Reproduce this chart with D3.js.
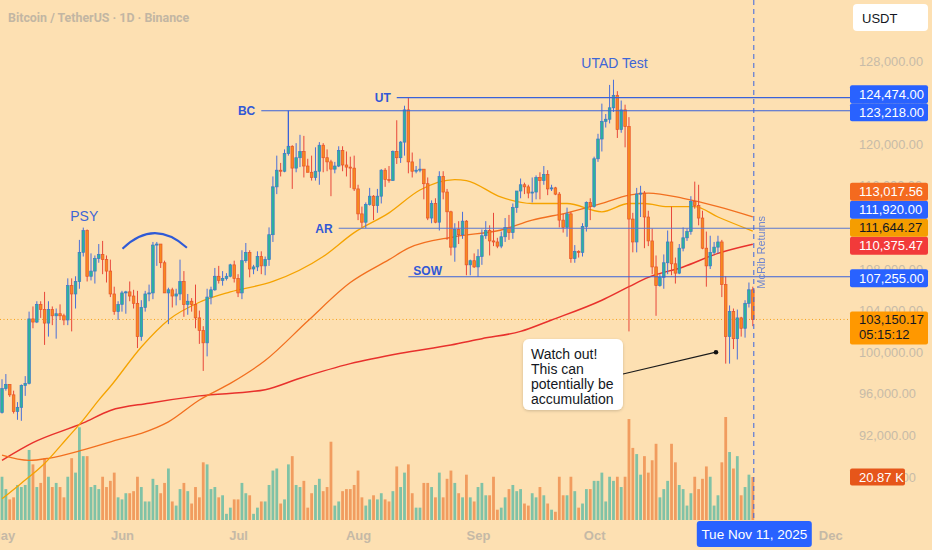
<!DOCTYPE html>
<html><head><meta charset="utf-8">
<script src="https://cdn.jsdelivr.net/npm/d3@7"></script>
<style>
html,body{margin:0;padding:0;background:#fde0b2;}
svg{display:block;font-family:"Liberation Sans",Arial,sans-serif;}
</style></head><body>
<svg id="c" width="932" height="550"></svg>
<script>
// ---------------- DATA (prices in thousands USDT, volume in K BTC) ----------------
const startDay = "2025-05-01";
const opens = [
94.2,96.5,96.9,95.9,94.3,94.7,96.8,97.0,103.2,102.9,104.6,104.1,102.8,104.1,103.5,103.7,103.5,103.1,106.4,105.6,106.8,109.6,111.7,107.3,107.8,109.0,109.4,108.9,107.8,105.6,103.9,
104.6,105.7,105.8,105.4,104.7,101.5,104.3,105.6,105.7,110.3,110.4,108.6,105.7,106.0,105.4,105.6,106.8,104.6,104.9,104.6,103.3,102.1,100.9,105.3,106.0,107.3,106.9,107.1,107.3,108.4,
107.1,105.7,108.8,109.6,108.0,108.2,109.2,108.3,108.9,111.3,115.9,117.5,117.4,119.1,119.8,117.7,118.7,119.3,117.9,117.3,116.8,117.4,119.9,118.7,118.3,117.6,117.9,119.4,118.0,117.8,117.7,
115.7,113.3,112.5,114.2,115.0,114.1,115.0,117.5,116.6,116.5,119.3,118.7,120.2,123.3,118.3,117.4,117.5,117.6,116.2,112.9,114.3,112.5,116.9,115.4,113.5,110.1,111.8,111.3,112.6,108.4,108.8,
108.2,109.2,111.2,111.7,110.7,110.6,110.2,111.1,112.0,111.5,113.9,115.5,116.1,115.9,115.3,115.4,116.8,116.5,117.1,115.7,115.8,115.2,112.7,112.0,113.3,109.0,109.7,109.6,112.1,114.4,
114.0,118.6,120.5,122.2,122.4,123.5,124.7,121.4,123.3,121.7,112.8,110.6,115.2,115.3,113.0,110.7,108.2,106.4,107.2,108.6,110.6,108.5,107.6,110.0,111.0,111.6,114.5,114.1,112.9,110.0,108.3,
109.6,110.1,110.6,106.5,101.5,103.9,101.3,103.3,102.3,104.7,106.0];
const highs = [
97.4,97.9,96.9,96.3,95.2,96.9,97.7,103.9,104.4,104.9,104.9,105.8,104.9,104.4,104.2,104.6,103.7,107.1,107.1,107.3,110.8,111.98,111.8,109.5,109.3,110.4,110.7,109.3,108.9,106.3,104.9,
105.9,105.9,106.8,106.0,105.9,105.0,105.9,106.5,110.6,110.6,110.4,108.8,106.2,106.2,106.1,108.9,107.8,105.6,105.2,106.5,104.0,102.5,106.1,106.3,108.1,108.3,107.8,107.6,108.5,108.8,
107.5,109.8,110.5,109.8,108.4,109.7,109.7,109.2,112.0,116.9,118.9,118.2,119.5,123.218,119.9,120.1,120.9,120.8,118.6,118.9,119.7,120.2,120.1,119.5,118.5,118.3,119.8,119.8,119.3,118.8,118.9,
116.1,114.0,114.4,115.8,115.1,115.7,117.6,117.7,117.9,119.4,122.3,120.3,123.7,124.474,119.2,117.9,118.6,117.6,116.8,114.6,114.8,117.4,117.4,115.7,113.6,112.4,112.6,113.5,112.7,108.9,109.5,
109.9,111.8,112.6,112.2,113.4,111.0,111.6,112.9,113.2,114.3,115.5,116.7,116.3,116.1,116.8,117.0,117.3,117.9,117.5,116.1,115.9,115.4,113.3,113.9,113.5,110.3,109.8,112.4,114.5,114.8,
118.8,121.0,123.9,122.9,125.7,126.2,125.1,124.2,123.8,122.6,113.4,115.8,116.0,115.5,113.6,111.9,109.3,107.5,109.4,111.7,114.0,109.1,110.4,112.0,111.9,115.0,116.4,116.1,113.6,111.6,111.2,
110.6,111.2,110.8,107.3,104.5,104.2,104.1,103.4,105.0,106.7,106.3];
const lows = [
94.1,96.3,95.7,94.1,93.5,93.4,95.8,96.9,102.3,102.8,103.3,100.7,101.5,102.6,101.3,103.1,102.6,102.6,102.0,104.2,106.1,109.2,106.8,106.9,106.6,108.6,107.5,106.7,105.3,103.6,103.1,
103.9,103.7,104.9,104.2,100.4,101.1,103.9,104.9,105.1,108.3,108.1,105.7,102.7,104.3,104.5,105.0,103.4,103.6,103.9,102.3,100.8,98.2,99.6,104.6,105.9,106.6,106.4,106.9,107.2,106.7,
105.3,105.1,108.6,107.2,107.5,107.8,107.5,107.4,108.3,110.6,115.2,116.9,117.3,118.9,115.7,117.3,117.8,116.8,117.3,116.5,116.5,116.1,117.3,117.4,115.0,117.2,117.8,117.4,116.9,115.8,115.5,
112.7,112.0,111.92,114.1,112.7,113.4,114.3,115.9,116.3,116.5,118.1,118.2,118.9,117.2,116.8,117.2,117.3,114.7,112.7,112.4,112.4,111.7,114.7,110.8,109.3,108.7,110.4,110.9,107.4,107.4,108.1,
107.255,108.4,110.9,109.3,110.2,110.0,110.0,110.6,110.8,110.9,113.4,114.8,115.2,114.8,114.4,114.7,114.7,116.1,115.1,115.5,115.1,112.0,111.5,111.1,108.6,108.6,109.1,109.2,111.6,112.7,
113.9,118.3,119.3,121.6,122.0,123.1,120.6,121.1,119.7,102.0,109.6,109.6,113.0,110.0,110.2,107.5,103.5,106.3,106.1,107.5,107.4,106.6,107.5,109.7,110.7,111.3,113.8,112.2,109.9,106.3,108.0,
109.4,109.5,105.3,98.9,98.9,100.3,99.3,101.5,101.4,104.3,102.5];
const closes = [
96.5,96.9,95.9,94.3,94.7,96.8,97.0,103.2,102.9,104.6,104.1,102.8,104.1,103.5,103.7,103.5,103.1,106.4,105.6,106.8,109.6,111.7,107.3,107.8,109.0,109.4,108.9,107.8,105.6,103.9,104.6,
105.7,105.8,105.4,104.7,101.5,104.3,105.6,105.7,110.3,110.4,108.6,105.7,106.0,105.4,105.6,106.8,104.6,104.9,104.6,103.3,102.1,100.9,105.3,106.0,107.3,106.9,107.1,107.3,108.4,107.1,
105.7,108.8,109.6,108.0,108.2,109.2,108.3,108.9,111.3,115.9,117.5,117.4,119.1,119.8,117.7,118.7,119.3,117.9,117.3,116.8,117.4,119.9,118.7,118.3,117.6,117.9,119.4,118.0,117.8,117.7,115.7,
113.3,112.5,114.2,115.0,114.1,115.0,117.5,116.6,116.5,119.3,118.7,120.2,123.3,118.3,117.4,117.5,117.6,116.2,112.9,114.3,112.5,116.9,115.4,113.5,110.1,111.8,111.3,112.6,108.4,108.8,108.2,
109.2,111.2,111.7,110.7,110.6,110.2,111.1,112.0,111.5,113.9,115.5,116.1,115.9,115.3,115.4,116.8,116.5,117.1,115.7,115.8,115.2,112.7,112.0,113.3,109.0,109.7,109.6,112.1,114.4,114.0,
118.6,120.5,122.2,122.4,123.5,124.7,121.4,123.3,121.7,112.8,110.6,115.2,115.3,113.0,110.7,108.2,106.4,107.2,108.6,110.6,108.5,107.6,110.0,111.0,111.6,114.5,114.1,112.9,110.0,108.3,109.6,
110.1,110.6,106.5,101.5,103.9,101.3,103.3,102.3,104.7,106.0,103.15017];
const volumes = [
21,15,10,11,17,16,17,34,27,16,18,30,21,16,18,16,11,21,30,23,45,31,31,16,17,15,21,16,19,23,11,
10,13,13,14,21,16,9,9,20,17,13,18,25,9,7,15,18,14,8,16,11,28,27,15,16,11,12,3,6,10,
10,18,13,12,3,6,9,9,17,24,25,8,10,27,31,17,16,19,6,13,17,20,14,16,38,7,9,14,15,15,17,
24,11,7,10,12,10,13,10,9,14,26,16,23,27,13,6,6,18,18,16,11,23,11,20,24,18,13,11,22,11,9,
16,18,12,12,21,5,6,11,15,17,14,15,8,7,13,11,16,12,8,5,4,21,12,12,21,14,6,8,15,15,
19,19,23,9,21,19,21,16,21,49,35,32,22,31,23,29,37,11,15,19,37,28,17,15,7,13,21,15,20,26,21,
7,12,28,50,33,25,31,12,16,22,20.87];

const ma50Dates = ["2025-05-01","2025-05-06","2025-05-12","2025-05-18","2025-05-22","2025-05-26","2025-05-29","2025-06-06","2025-06-13","2025-06-21","2025-06-29","2025-07-10","2025-07-23","2025-07-31","2025-08-09","2025-08-17","2025-08-26","2025-08-29","2025-09-07","2025-09-15","2025-09-24","2025-10-03","2025-10-10","2025-10-14","2025-10-20","2025-10-27","2025-11-02","2025-11-11"];
const ma50Values = [85.9,87.4,89.3,91.8,93.5,95.4,96.7,100.5,103.1,104.8,105.8,106.8,109.2,111.5,113.4,115.6,116.6,116.5,114.9,114.3,114.3,113.5,114.3,114.3,114.0,114.0,113.0,111.64427];
const ma100Dates = ["2025-05-01","2025-05-08","2025-05-13","2025-05-22","2025-05-31","2025-06-06","2025-06-13","2025-06-21","2025-06-29","2025-07-08","2025-07-19","2025-07-30","2025-08-09","2025-08-14","2025-08-26","2025-09-07","2025-09-15","2025-09-24","2025-10-03","2025-10-10","2025-10-15","2025-10-24","2025-11-02","2025-11-11"];
const ma100Values = [90.1,89.6,89.8,90.6,91.6,92.2,93.3,95.4,97.0,99.2,103.0,106.7,108.9,110.0,111.1,111.75,112.7,113.4,114.3,115.1,115.3,114.8,114.0,113.01756];
const ma200Dates = ["2025-05-01","2025-05-09","2025-05-22","2025-05-29","2025-06-08","2025-06-21","2025-07-08","2025-07-17","2025-07-30","2025-08-12","2025-08-25","2025-09-02","2025-09-12","2025-09-20","2025-10-03","2025-10-10","2025-10-15","2025-10-24","2025-11-02","2025-11-11"];
const ma200Values = [89.6,91.3,93.2,94.4,95.1,95.8,96.4,97.5,98.9,99.9,100.7,101.3,102.0,103.1,105.0,106.3,107.2,108.2,109.5,110.37547];

// Wyckoff levels
const levelNames = ["BC","UT","AR","SOW"];
const levelValues = [123.218,124.474,111.92,107.255];
const levelStarts = ["2025-07-07","2025-08-11","2025-07-27","2025-08-14"];

const yTicks = [88,92,96,100,104,108,112,116,120,124,128];
const timerText = "05:15:12";
const calloutLines = ["Watch out!","This can","potentially be","accumulation"];

// ---------------- CHART ----------------
const svg = d3.select("#c");
const parse = d3.utcParse("%Y-%m-%d");
const d0 = parse(startDay);
const data = closes.map((c,i)=>({date:d3.utcDay.offset(d0,i),o:opens[i],h:highs[i],l:lows[i],c:c,v:volumes[i]}));
const last = data[data.length-1];

const plotR = 850;
const x = d3.scaleUtc().domain([d0, parse("2025-12-01")]).range([2, 830.2]);
const y = d3.scaleLinear().domain([92,128]).range([435.4,61]);
const yv = d3.scaleLinear().domain([0,50]).range([520,417]);
const fmt = v => d3.format(",.2f")(v*1000);

const BG = "#fde0b2";
svg.append("rect").attr("width",932).attr("height",550).attr("fill",BG);

svg.append("defs").append("clipPath").attr("id","plot")
  .append("rect").attr("x",0).attr("y",0).attr("width",plotR).attr("height",520);
const shadow = svg.select("defs").append("filter").attr("id","sh").attr("x","-20%").attr("y","-20%").attr("width","140%").attr("height","150%");
shadow.append("feDropShadow").attr("dx",0).attr("dy",1).attr("stdDeviation",1.5).attr("flood-color","#000").attr("flood-opacity",0.18);

const plot = svg.append("g").attr("clip-path","url(#plot)");

// title
svg.append("text").attr("x",8).attr("y",22).text("Bitcoin / TetherUS · 1D · Binance")
  .attr("font-family","Roboto, sans-serif").attr("font-weight",700).attr("font-size",12.4).attr("fill","#c2b6a3");

// volume
const bw = 2.8;
plot.append("g").selectAll("rect").data(data).join("rect")
  .attr("x",d=>x(d.date)-bw/2).attr("width",bw)
  .attr("y",d=>yv(d.v)).attr("height",d=>520-yv(d.v))
  .attr("fill",d=>d.c>=d.o?"#80c2a6":"#f19c5f");

// current price dotted line
plot.append("line").attr("x1",0).attr("x2",plotR).attr("y1",y(last.c)).attr("y2",y(last.c))
  .attr("stroke","#f5a01a").attr("stroke-width",1).attr("stroke-dasharray","1,2.5");

// moving averages
const maLine = d3.line().x(d=>x(d[0])).y(d=>y(d[1])).curve(d3.curveMonotoneX);
const mas = [
  {dates:ma200Dates, vals:ma200Values, color:"#e8312c", w:1.5},
  {dates:ma100Dates, vals:ma100Values, color:"#f26f1f", w:1.3},
  {dates:ma50Dates, vals:ma50Values, color:"#f5a300", w:1.3}
];
mas.forEach(m=>{
  plot.append("path").datum(m.dates.map((d,i)=>[parse(d),m.vals[i]]))
    .attr("d",maLine).attr("fill","none").attr("stroke",m.color).attr("stroke-width",m.w);
});

// candles
const cg = plot.append("g");
const cw = 2.6;
const cs = cg.selectAll("g").data(data).join("g");
cs.append("line").attr("x1",d=>x(d.date)).attr("x2",d=>x(d.date))
  .attr("y1",d=>y(d.h)).attr("y2",d=>y(d.l))
  .attr("stroke",d=>d.c>=d.o?"#4a6fd8":"#e8473a").attr("stroke-width",1);
cs.append("rect").attr("x",d=>x(d.date)-cw/2).attr("width",cw)
  .attr("y",d=>y(Math.max(d.o,d.c))).attr("height",d=>Math.max(1,Math.abs(y(d.o)-y(d.c))))
  .attr("fill",d=>d.c>=d.o?"#2bb39d":"#f7891f")
  .attr("stroke",d=>d.c>=d.o?"#3d78c8":"#e8522a").attr("stroke-width",0.7);

// levels
const blue = "#3a62d9";
levelNames.forEach((n,i)=>{
  const xs = x(parse(levelStarts[i])), yy = y(levelValues[i]);
  plot.append("line").attr("x1",xs).attr("x2",plotR).attr("y1",yy).attr("y2",yy)
    .attr("stroke",n==="AR"?"#5a78cf":blue).attr("stroke-width",1.2);
  const t = svg.append("text").text(n).attr("font-weight",700).attr("font-size",12).attr("fill","#3158d6");
  if (n==="SOW") t.attr("x",xs+5).attr("y",yy-1.5).attr("text-anchor","start");
  else t.attr("x",xs-6).attr("y",yy).attr("dy","0.36em").attr("text-anchor","end");
});
// BC connector to the Jul 14 candle
const bcDay = data.find(d=>d3.utcFormat("%Y-%m-%d")(d.date)==="2025-07-14");
plot.append("line").attr("x1",x(bcDay.date)).attr("x2",x(bcDay.date))
  .attr("y1",y(levelValues[0])).attr("y2",y(bcDay.c)).attr("stroke",blue).attr("stroke-width",1.2);

// PSY, arc, UTAD Test
svg.append("text").attr("x",x(parse("2025-05-22"))+1).attr("y",y(113.1)).attr("dy","0.36em")
  .attr("text-anchor","middle").text("PSY").attr("font-size",14).attr("fill","#3e66d6");
const a0=[x(parse("2025-06-01"))+0.5,y(109.95)], a1=[x(parse("2025-06-17"))+3,y(110.05)], ap=[x(parse("2025-06-09"))+1.5,y(111.45)];
const ctrl=[2*ap[0]-(a0[0]+a1[0])/2, 2*ap[1]-(a0[1]+a1[1])/2];
const arc = d3.path(); arc.moveTo(a0[0],a0[1]); arc.quadraticCurveTo(ctrl[0],ctrl[1],a1[0],a1[1]);
svg.append("path").attr("d",arc.toString()).attr("fill","none").attr("stroke","#2f5ad6").attr("stroke-width",2);
svg.append("text").attr("x",x(parse("2025-10-06"))+1).attr("y",y(127.8)).attr("dy","0.36em")
  .attr("text-anchor","middle").text("UTAD Test").attr("font-size",14).attr("fill","#3e66d6");

// vertical dashed line at last bar
svg.append("line").attr("x1",x(last.date)+1).attr("x2",x(last.date)+1).attr("y1",0).attr("y2",520)
  .attr("stroke","#3a64e0").attr("stroke-width",1).attr("stroke-dasharray","5,4");
svg.append("text").attr("transform",`translate(${x(last.date)+12},${y(109.6)}) rotate(-90)`)
  .attr("text-anchor","middle").text("McRib Returns").attr("font-size",11).attr("fill","#5a78d2").attr("opacity",0.85);

// callout
const anchor=[x(parse("2025-11-02"))-2, y(100.0)];
const bx=523, by=339, bwid=100, bh=71;
svg.append("line").attr("x1",bx+bwid).attr("y1",by+35).attr("x2",anchor[0]).attr("y2",anchor[1])
  .attr("stroke","#1b1b1b").attr("stroke-width",1.2);
svg.append("circle").attr("cx",anchor[0]).attr("cy",anchor[1]).attr("r",2.3).attr("fill","#111");
svg.append("rect").attr("x",bx).attr("y",by).attr("width",bwid).attr("height",bh).attr("rx",6)
  .attr("fill","#ffffff").attr("filter","url(#sh)");
calloutLines.forEach((t,i)=>{
  svg.append("text").attr("x",bx+8).attr("y",by+20+i*15).text(t).attr("font-size",14).attr("fill","#131722");
});

// price axis
const ax = svg.append("g").attr("transform",`translate(${plotR},0)`)
  .call(d3.axisRight(y).tickValues(yTicks).tickFormat(fmt).tickSize(0).tickPadding(9));
ax.select(".domain").remove();
ax.selectAll("text").attr("font-family","Liberation Sans, Arial, sans-serif").attr("font-size",12.8).attr("fill","#c7bba8");

// time axis
const tx = svg.append("g").attr("transform","translate(0,526)")
  .call(d3.axisBottom(x).ticks(d3.utcMonth.every(1)).tickFormat(d3.utcFormat("%b")).tickSize(0).tickPadding(5));
tx.select(".domain").remove();
tx.selectAll("text").attr("font-family","Liberation Sans, Arial, sans-serif").attr("font-size",13).attr("font-weight",700).attr("fill","#c5b9a6");

// USDT box
svg.append("rect").attr("x",853).attr("y",4).attr("width",75).attr("height",27).attr("rx",4).attr("fill","#fff");
svg.append("text").attr("x",862).attr("y",22.5).text("USDT").attr("font-size",13).attr("fill","#131722");

// price labels (stacked upward when overlapping)
const labels = [
  {v:levelValues[1], bg:"#2962ff", fg:"#fff"},
  {v:levelValues[0], bg:"#2962ff", fg:"#fff"},
  {v:ma100Values[ma100Values.length-1], bg:"#f46a1f", fg:"#fff"},
  {v:levelValues[2], bg:"#2962ff", fg:"#fff"},
  {v:ma50Values[ma50Values.length-1], bg:"#f59d00", fg:"#131722"},
  {v:ma200Values[ma200Values.length-1], bg:"#f23a3a", fg:"#fff"},
  {v:levelValues[3], bg:"#2962ff", fg:"#fff"}
];
labels.sort((a,b)=>a.v-b.v);
let prev = Infinity;
labels.forEach(l=>{ let c = y(l.v)+1.5; if (c > prev-18) c = prev-18; l.cy=c; prev=c; });
labels.forEach(l=>{
  svg.append("rect").attr("x",850).attr("y",l.cy-9).attr("width",78).attr("height",18).attr("rx",2).attr("fill",l.bg);
  svg.append("text").attr("x",859).attr("y",l.cy).attr("dy","0.36em").text(fmt(l.v))
    .attr("font-size",13).attr("fill",l.fg);
});
// last price label
const lp = y(last.c);
svg.append("rect").attr("x",850).attr("y",lp-8).attr("width",78).attr("height",33).attr("rx",2).attr("fill","#ff9800");
svg.append("text").attr("x",859).attr("y",lp).attr("dy","0.36em").text(fmt(last.c)).attr("font-size",13).attr("fill","#131722");
svg.append("text").attr("x",859).attr("y",lp+15).attr("dy","0.36em").text(timerText).attr("font-size",13).attr("fill","#131722");
// volume label
const vy = yv(last.v);
svg.append("rect").attr("x",850).attr("y",vy-8.5).attr("width",55).attr("height",17).attr("rx",2).attr("fill","#e6561a");
svg.append("text").attr("x",859).attr("y",vy).attr("dy","0.36em").text(d3.format(".2f")(last.v)+" K").attr("font-size",13).attr("fill","#fff");

// date label
const dx = x(last.date)+1.5;
svg.append("rect").attr("x",dx-57.5).attr("y",521).attr("width",115).attr("height",26).attr("rx",3).attr("fill","#2962ff");
svg.append("text").attr("x",dx).attr("y",534).attr("dy","0.36em").attr("text-anchor","middle")
  .text(d3.utcFormat("%a %b %-d, %Y")(last.date)).attr("font-size",13.5).attr("fill","#fff");
</script>
</body></html>
